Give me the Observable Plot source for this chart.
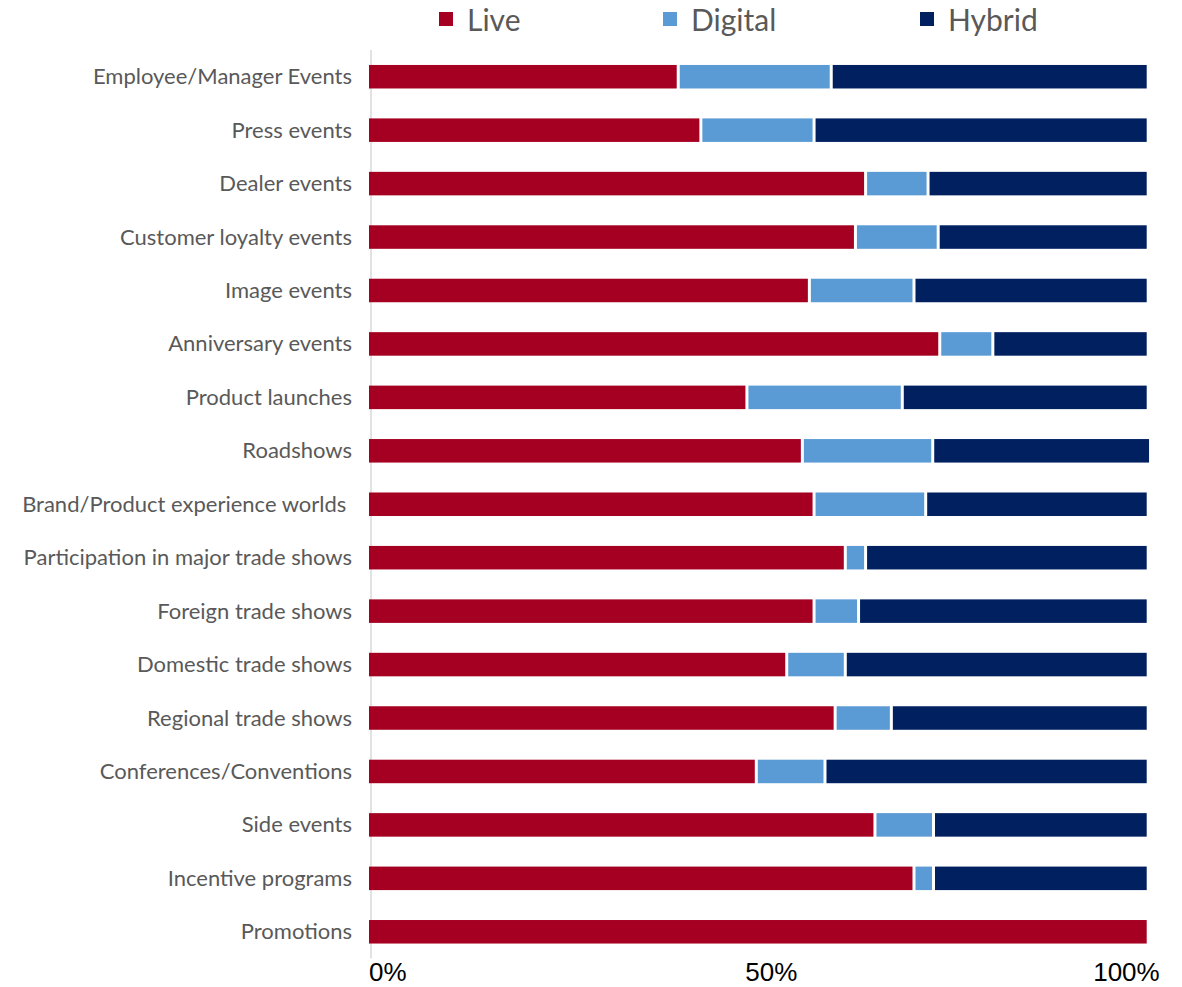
<!DOCTYPE html>
<html>
<head>
<meta charset="utf-8">
<script src="https://cdn.jsdelivr.net/npm/d3@7"></script>
<script src="https://cdn.jsdelivr.net/npm/@observablehq/plot@0.6"></script>
<style>
  html, body { margin: 0; padding: 0; background: #fff; }
  #legend { position: relative; width: 1182px; height: 42px; font-family: Lato, "Open Sans", sans-serif; color: #595959; }
  .item { position: absolute; top: -2px; height: 42px; display: flex; align-items: center; font-size: 30px; }
  .sw { width: 14px; height: 14px; margin-right: 14px; }
  #chart svg { display: block; }
</style>
</head>
<body>
<div id="legend"></div>
<div id="chart"></div>
<script>
const categories = [
  "Employee/Manager Events", "Press events", "Dealer events", "Customer loyalty events",
  "Image events", "Anniversary events", "Product launches", "Roadshows",
  "Brand/Product experience worlds ", "Participation in major trade shows",
  "Foreign trade shows", "Domestic trade shows", "Regional trade shows",
  "Conferences/Conventions", "Side events", "Incentive programs", "Promotions"
];
const seriesNames = ["Live", "Digital", "Hybrid"];
const live    = [39.8, 42.7, 63.8, 62.5, 56.6, 73.3, 48.6, 55.7, 57.2, 61.2, 57.2, 53.7, 59.9, 49.8, 65.0, 70.0, 100];
const digital = [19.6, 14.5,  8.0, 10.6, 13.4,  6.8, 19.9, 16.7, 14.3,  2.6,  5.7,  7.5,  7.2,  8.8,  7.5,  2.5, 0];
const hybrid  = [40.6, 42.8, 28.2, 26.9, 30.0, 19.9, 31.5, 27.9, 28.5, 36.2, 37.1, 38.8, 32.9, 41.4, 27.5, 27.5, 0];
const xTicks = [0, 50, 100];
const xTickLabels = ["0%", "50%", "100%"];

const colors = ["#A50021", "#5B9BD5", "#002060"];
const seriesValues = [live, digital, hybrid];

const rows = [];
categories.forEach((c, i) => {
  seriesNames.forEach((s, j) => {
    const v = seriesValues[j][i];
    if (v > 0) rows.push({category: c, series: s, value: v});
  });
});

// Legend (HTML, above the SVG)
const legendPos = [439, 663, 920];
const legend = document.getElementById("legend");
seriesNames.forEach((s, j) => {
  const it = document.createElement("div");
  it.className = "item";
  it.style.left = legendPos[j] + "px";
  const sw = document.createElement("span");
  sw.className = "sw";
  sw.style.background = colors[j];
  it.appendChild(sw);
  const t = document.createElement("span");
  t.textContent = s;
  it.appendChild(t);
  legend.appendChild(it);
});

const anchors = ["start", "middle", "end"];
const dxs = [1, 13, 11];

const chart = Plot.plot({
  width: 1182,
  height: 945,
  marginLeft: 367.5,
  marginRight: 33.8,
  marginTop: 8,
  marginBottom: 28.5,
  style: {fontFamily: "Lato, 'Open Sans', sans-serif", background: "#fff"},
  x: {domain: [0, 100], axis: null},
  y: {domain: categories, paddingInner: 0.56, paddingOuter: 0.28, round: false, axis: null},
  color: {domain: seriesNames, range: colors},
  marks: [
    Plot.ruleX([0], {dx: 3, stroke: "#D9D9D9", strokeWidth: 1.5}),
    Plot.barX(rows, Plot.stackX({
      x: "value", y: "category", fill: "series", order: seriesNames,
      insetLeft: 1.5, insetRight: 1.5
    })),
    Plot.axisY({
      tickSize: 0, tickPadding: 16, fontSize: 22, fill: "#595959",
      label: null, textAnchor: "end"
    }),
    ...xTicks.map((t, i) => Plot.text([t], {
      x: d => d,
      frameAnchor: "bottom",
      dy: 22,
      text: () => xTickLabels[i],
      textAnchor: anchors[i],
      dx: dxs[i],
      fontSize: 26,
      fontFamily: "'Liberation Sans', Arial, sans-serif",
      fill: "#000"
    }))
  ]
});
document.getElementById("chart").appendChild(chart);
</script>
</body>
</html>
